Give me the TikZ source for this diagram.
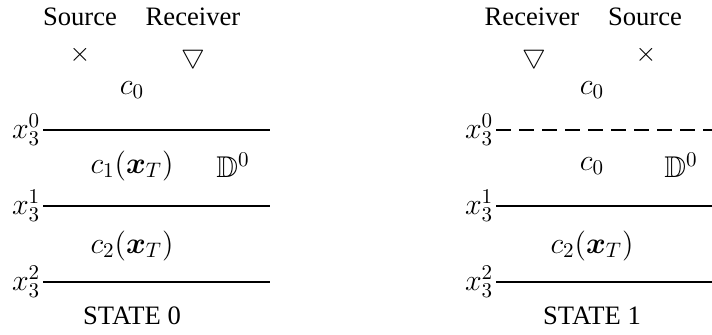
\RequirePackage{fix-cm}
\documentclass[tikz,border=0pt]{standalone}
\usepackage{amsmath,amssymb}
\usepackage[no-math]{fontspec}
\setmainfont{Liberation Serif}
\usepackage{tikz}

\tikzset{
  txt/.style={font=\fontsize{13.3}{16}\selectfont, inner sep=0pt},
  mth/.style={font=\fontsize{15}{18}\selectfont, inner sep=0pt},
  depth/.style={mth, anchor=east, xshift=-1.2pt},
  layer/.style={line width=1.1pt},
  open/.style={line width=1.1pt, dash pattern=on 7.5pt off 4pt},
}

\begin{document}
\begin{tikzpicture}[x=10pt,y=10pt]
\useasboundingbox (0,0) rectangle (35.6,16.75);
% STATE 0
\node[txt,anchor=base] (srcA) at (4,15.45) {Source};
\node[txt,anchor=base] (recA) at (9.65,15.45) {Receiver};
\node[txt] (sA) at (4,14.0) {$\times$};
\node[txt] (rA) at (9.65,13.9) {$\bigtriangledown$};
\node[mth] (cA0) at (6.6,12.25) {$c_0$};
\coordinate (a0l) at (2.15,10.25); \coordinate (a0r) at (13.5,10.25);
\coordinate (a1l) at (2.15,6.45);  \coordinate (a1r) at (13.5,6.45);
\coordinate (a2l) at (2.15,2.65);  \coordinate (a2r) at (13.5,2.65);
\draw[layer] (a0l) -- (a0r);
\draw[layer] (a1l) -- (a1r);
\draw[layer] (a2l) -- (a2r);
\node[depth] (xA0) at (a0l) {$x_3^0$};
\node[depth] (xA1) at (a1l) {$x_3^1$};
\node[depth] (xA2) at (a2l) {$x_3^2$};
\node[mth] (cA1) at (6.6,8.45) {$c_1(\boldsymbol{x}_T)$};
\node[mth] (dA) at (11.65,8.5) {$\mathbb{D}^0$};
\node[mth] (cA2) at (6.6,4.45) {$c_2(\boldsymbol{x}_T)$};
\node[txt,anchor=base] (stA) at (6.6,0.5) {STATE 0};
% STATE 1
\node[txt,anchor=base] (recB) at (26.6,15.45) {Receiver};
\node[txt,anchor=base] (srcB) at (32.25,15.45) {Source};
\node[txt] (rB) at (26.7,13.9) {$\bigtriangledown$};
\node[txt] (sB) at (32.3,14.0) {$\times$};
\node[mth] (cB0) at (29.6,12.25) {$c_0$};
\coordinate (b0l) at (24.8,10.25); \coordinate (b0r) at (35.6,10.25);
\coordinate (b1l) at (24.8,6.45);  \coordinate (b1r) at (35.6,6.45);
\coordinate (b2l) at (24.8,2.65);  \coordinate (b2r) at (35.6,2.65);
\draw[open] (b0l) -- (b0r);
\draw[layer] (b1l) -- (b1r);
\draw[layer] (b2l) -- (b2r);
\node[depth] (xB0) at (b0l) {$x_3^0$};
\node[depth] (xB1) at (b1l) {$x_3^1$};
\node[depth] (xB2) at (b2l) {$x_3^2$};
\node[mth] (cB1) at (29.6,8.45) {$c_0$};
\node[mth] (dB) at (34.05,8.5) {$\mathbb{D}^0$};
\node[mth] (cB2) at (29.6,4.45) {$c_2(\boldsymbol{x}_T)$};
\node[txt,anchor=base] (stB) at (29.6,0.5) {STATE 1};
\end{tikzpicture}
\end{document}
